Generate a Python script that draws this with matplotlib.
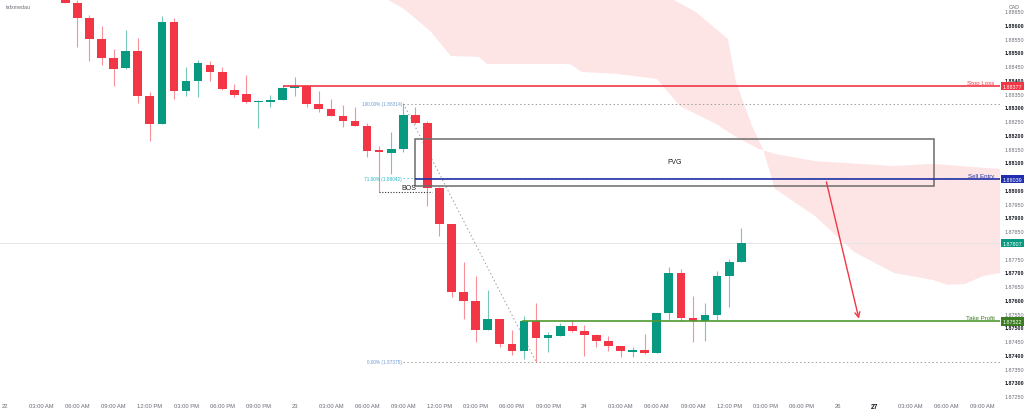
import numpy as np
import matplotlib.pyplot as plt
import matplotlib.transforms as mtransforms

plt.rcParams['font.family'] = ['Liberation Sans', 'DejaVu Sans']

# hourly candles, hour 0 = day 22 00:00
hours = list(range(5, 62))
opens = [1.88716, 1.88680, 1.88624, 1.88548, 1.88479, 1.88443, 1.88505, 1.88342, 1.88240, 1.88612,
         1.88360, 1.88397, 1.88455, 1.88428, 1.88365, 1.88348, 1.88319, 1.88319, 1.88328, 1.88370,
         1.88377, 1.88313, 1.88295, 1.88270, 1.88252, 1.88232, 1.88145, 1.88136, 1.88149, 1.88274,
         1.88244, 1.88008, 1.87876, 1.87628, 1.87597, 1.87492, 1.87531, 1.87440, 1.87416, 1.87523,
         1.87462, 1.87470, 1.87506, 1.87487, 1.87473, 1.87449, 1.87433, 1.87412, 1.87418, 1.87406,
         1.87553, 1.87698, 1.87535, 1.87523, 1.87547, 1.87686, 1.87739]
highs = [1.88731, 1.88691, 1.88636, 1.88595, 1.88513, 1.88583, 1.88554, 1.88355, 1.88634, 1.88626,
         1.88448, 1.88473, 1.88469, 1.88447, 1.88385, 1.88418, 1.88328, 1.88345, 1.88382, 1.88410,
         1.88382, 1.88361, 1.88331, 1.88309, 1.88301, 1.88244, 1.88159, 1.88212, 1.88314, 1.88301,
         1.88250, 1.88011, 1.87876, 1.87739, 1.87688, 1.87637, 1.87531, 1.87492, 1.87543, 1.87589,
         1.87485, 1.87515, 1.87527, 1.87509, 1.87476, 1.87470, 1.87433, 1.87428, 1.87476, 1.87553,
         1.87719, 1.87713, 1.87616, 1.87588, 1.87707, 1.87749, 1.87861]
lows = [1.88680, 1.88521, 1.88468, 1.88453, 1.88379, 1.88441, 1.88316, 1.88179, 1.88240, 1.88331,
        1.88343, 1.88337, 1.88395, 1.88365, 1.88337, 1.88316, 1.88224, 1.88301, 1.88328, 1.88343,
        1.88301, 1.88285, 1.88270, 1.88228, 1.88232, 1.88119, 1.87994, 1.88058, 1.88137, 1.88240,
        1.87941, 1.87832, 1.87610, 1.87531, 1.87446, 1.87491, 1.87428, 1.87401, 1.87385, 1.87375,
        1.87412, 1.87468, 1.87483, 1.87397, 1.87430, 1.87416, 1.87394, 1.87392, 1.87404, 1.87406,
        1.87525, 1.87525, 1.87446, 1.87450, 1.87525, 1.87574, 1.87739]
closes = [1.88680, 1.88624, 1.88548, 1.88480, 1.88441, 1.88505, 1.88342, 1.88240, 1.88612, 1.88361,
          1.88396, 1.88462, 1.88428, 1.88367, 1.88347, 1.88319, 1.88320, 1.88328, 1.88370, 1.88377,
          1.88313, 1.88295, 1.88270, 1.88252, 1.88232, 1.88143, 1.88137, 1.88149, 1.88274, 1.88244,
          1.88008, 1.87876, 1.87628, 1.87597, 1.87492, 1.87531, 1.87440, 1.87416, 1.87523, 1.87463,
          1.87473, 1.87506, 1.87487, 1.87473, 1.87449, 1.87433, 1.87414, 1.87418, 1.87406, 1.87553,
          1.87698, 1.87535, 1.87523, 1.87547, 1.87686, 1.87739, 1.87807]

# ichimoku cloud edges
span_a_h = [31.07, 31.57, 33.06, 34.05, 35.29, 36.95, 39.27, 39.93, 46.81, 47.80, 50.70, 54.02,
            55.92, 58.91, 60.56, 62.47, 63.79, 67.11, 73.65, 76.88, 82.44]
span_a = [1.88713, 1.88695, 1.88658, 1.88622, 1.88575, 1.88487, 1.88484, 1.88458, 1.88458, 1.88429,
          1.88422, 1.88404, 1.88305, 1.88240, 1.88193, 1.88149, 1.88131, 1.88105, 1.88087, 1.88095,
          1.88076]
span_b_h = [31.07, 49.30, 55.26, 57.25, 59.90, 60.56, 61.89, 62.80, 63.79, 67.11, 70.34, 73.65,
            76.88, 78.04, 79.54, 81.03, 82.44]
span_b = [1.88900, 1.88840, 1.88695, 1.88647, 1.88549, 1.88393, 1.88233, 1.88149, 1.88004, 1.87905,
          1.87775, 1.87698, 1.87673, 1.87655, 1.87658, 1.87687, 1.87698]

stop_loss = 1.88377
sell_entry = 1.88039
take_profit = 1.87522
last_price = 1.87807
fib_100 = 1.88314
fib_71 = 1.88042
fib_0 = 1.87375
bos_level = 1.87994
fvg_top = 1.88185
fvg_bottom = 1.88016

# 1.87800 and 1.88050 sit under the price tags
price_ticks = ['1.87250', '1.87300', '1.87350', '1.87400', '1.87450', '1.87500', '1.87550', '1.87600',
               '1.87650', '1.87700', '1.87750', '1.87850', '1.87900', '1.87950', '1.88000',
               '1.88100', '1.88150', '1.88200', '1.88250', '1.88300', '1.88350', '1.88400',
               '1.88450', '1.88500', '1.88550', '1.88600', '1.88650']
time_ticks = [0, 3, 6, 9, 12, 15, 18, 21, 24, 27, 30, 33, 36, 39, 42, 45, 48, 51, 54, 57, 60, 63, 66,
              69, 72, 75, 78, 81]
time_labels = ['22', '03:00 AM', '06:00 AM', '09:00 AM', '12:00 PM', '03:00 PM', '06:00 PM', '09:00 PM',
               '23', '03:00 AM', '06:00 AM', '09:00 AM', '12:00 PM', '03:00 PM', '06:00 PM', '09:00 PM',
               '24', '03:00 AM', '06:00 AM', '09:00 AM', '12:00 PM', '03:00 PM', '06:00 PM',
               '26', '27', '03:00 AM', '06:00 AM', '09:00 AM']

up = '#089981'
down = '#f23645'
navy = '#2431a6'
olive = '#4e9a2f'

fig = plt.figure(figsize=(10.24, 4.14), dpi=100)
ax = fig.add_axes([0, 0.034, 0.9766, 0.966])

# cloud
ax.fill(np.concatenate([span_a_h, span_b_h[::-1]]), np.concatenate([span_a, span_b[::-1]]),
        color=down, alpha=0.13, lw=0, zorder=0)

# candles
o = np.array(opens)
c = np.array(closes)
cols = [up if c[i] >= o[i] else down for i in range(len(o))]
ax.vlines(hours, lows, highs, colors=cols, lw=0.8, alpha=0.55, zorder=3)
body = np.maximum(np.abs(c - o), 0.00004)
ax.bar(hours, body, bottom=np.minimum(o, c), width=0.72, color=cols, lw=0, zorder=4)

# last price line
ax.axhline(last_price, color='#e6e6e6', lw=0.7, zorder=1)

# fib levels
ax.hlines([fib_100, fib_0], 33.0, 82.44, colors='#9e9e9e', lw=0.7, linestyles=(0, (1.5, 2.5)), zorder=2)
ax.hlines(fib_71, 33.0, 82.44, colors='#4dd0e1', lw=0.7, linestyles=(0, (1.5, 2.5)), zorder=2)
ax.text(32.9, fib_100, '100.00% (1.88314)', fontsize=3.4, color='#6c9bd2', ha='right', va='center')
ax.text(32.9, fib_71, '71.00% (1.88042)', fontsize=3.4, color='#26b5c8', ha='right', va='center')
ax.text(32.9, fib_0, '0.00% (1.87375)', fontsize=3.4, color='#6c9bd2', ha='right', va='center')
ax.plot([33, 44], [fib_100, fib_0], color='#9e9e9e', lw=0.7, ls=(0, (1.5, 2.5)), zorder=2)

# BOS
ax.hlines(bos_level, 31, 35.4, colors='#333333', lw=0.8, linestyles=(0, (1, 1.5)), zorder=5)
ax.text(33.5, bos_level + 0.00004, 'BOS', fontsize=5, color='#222222', ha='center', va='bottom', zorder=6)

# FVG box
ax.add_patch(plt.Rectangle((34, fvg_bottom), 43, fvg_top - fvg_bottom, fill=False,
                           edgecolor='#6b6b6b', lw=1.1, zorder=5))
ax.text(55.5, (fvg_top + fvg_bottom) / 2 + 0.00003, 'FVG', fontsize=5, color='#222222',
        ha='center', va='center', zorder=6)

# trade levels
ax.hlines(stop_loss, 23, 82.44, colors=down, lw=1.2, zorder=6)
ax.hlines(sell_entry, 34, 82.44, colors=navy, lw=1.2, zorder=6)
ax.hlines(take_profit, 42.8, 82.44, colors=olive, lw=1.2, zorder=6)
ax.text(82.0, stop_loss + 0.00005, 'Stop Loss', fontsize=4.4, color=down, ha='right', va='bottom')
ax.text(82.0, sell_entry + 0.00005, 'Sell Entry', fontsize=4.4, color=navy, ha='right', va='bottom')
ax.text(82.0, take_profit + 0.00005, 'Take Profit', fontsize=4.4, color='#3d7f22', ha='right', va='bottom')

ax.annotate('', xy=(70.8, take_profit), xytext=(68.0, sell_entry),
            arrowprops=dict(arrowstyle='->', color=down, lw=1.0, mutation_scale=9), zorder=7)

ax.set_xlim(-0.41, 82.44)
ax.set_ylim(1.87240, 1.886945)

# price axis on the right
ax.yaxis.tick_right()
ax.set_yticks([float(t) for t in price_ticks], price_ticks)
ax.tick_params(axis='y', length=0, pad=3, labelsize=3.9)
for lab in ax.get_yticklabels():
    if round(float(lab.get_text()) * 1000, 6) % 1 == 0:
        lab.set_fontweight('bold')
        lab.set_color('#131722')
    else:
        lab.set_color('#6a6d78')

ax.set_xticks(time_ticks, time_labels)
ax.tick_params(axis='x', length=0, pad=3, labelsize=4.2, labelcolor='#6a6d78')
for lab in ax.get_xticklabels():
    if lab.get_text() == '27':
        lab.set_fontweight('bold')
        lab.set_color('#131722')
        lab.set_fontsize(4.8)

for s in ax.spines.values():
    s.set_visible(False)

# price tags
tr = mtransforms.blended_transform_factory(ax.transAxes, ax.transData)
for val, col in [(stop_loss, down), (sell_entry, '#1f2fb0'), (last_price, up), (take_profit, '#3b7d20')]:
    ax.text(1.003, val, '%.5f' % val, transform=tr, fontsize=3.9, color='white', ha='left', va='center',
            clip_on=False, zorder=10, bbox=dict(boxstyle='square,pad=0.3', fc=col, ec='none'))

fig.text(0.985, 0.988, 'CAD', fontsize=3.8, color='#6a6d78', ha='left', va='top')
fig.text(0.006, 0.988, 'tafxmedau', fontsize=3.8, color='#6a6d78', ha='left', va='top')

plt.savefig('out.png', dpi=100)
